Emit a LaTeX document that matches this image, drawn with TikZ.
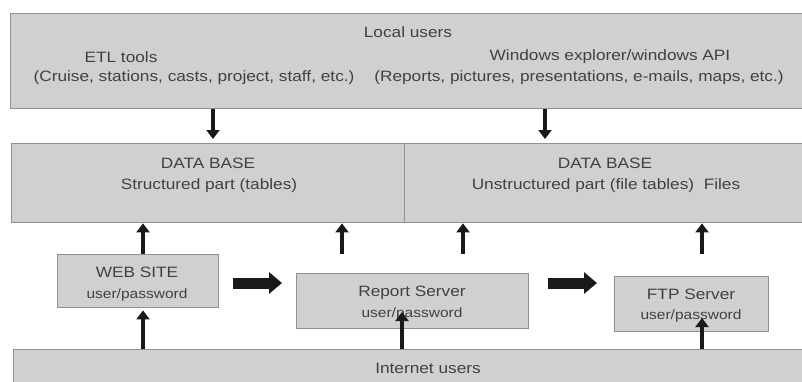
\documentclass[tikz,border=0pt]{standalone}
\usepackage{fontspec}
\setmainfont[FakeStretch=1.15]{Liberation Sans}
\usetikzlibrary{arrows.meta}
\definecolor{boxfill}{RGB}{208,208,208}
\definecolor{boxline}{RGB}{145,145,145}
\definecolor{txt}{RGB}{65,65,65}
\definecolor{arr}{RGB}{25,25,25}
\tikzset{
  box/.style={draw=boxline, line width=1.4pt, fill=boxfill, inner sep=0pt, anchor=north west},
  lbl/.style={text=txt, font=\fontsize{15}{18}\selectfont, inner sep=0pt, anchor=center},
  slbl/.style={text=txt, font=\fontsize{13.5}{16}\selectfont, inner sep=0pt, anchor=center},
  varrow/.style={draw=arr, line width=4.2pt, -{Triangle[width=13pt,length=9pt]}},
  harrow/.style={draw=arr, line width=11pt, -{Triangle[width=21pt,length=13pt]}}
}
\begin{document}
\begin{tikzpicture}[x=1pt,y=-1pt]
\useasboundingbox (0,0) rectangle (802,381);
% boxes
\node[box, minimum width=805pt, minimum height=95pt] (top) at (10,13) {};
\node[box, minimum width=393pt, minimum height=79pt] (dbL) at (11,143) {};
\node[box, minimum width=411pt, minimum height=79pt] (dbR) at (404,143) {};
\node[box, minimum width=161pt, minimum height=53pt] (web) at (57,254) {};
\node[box, minimum width=232pt, minimum height=55pt] (rep) at (296,273) {};
\node[box, minimum width=154pt, minimum height=55pt] (ftp) at (614,276) {};
\node[box, minimum width=805pt, minimum height=55pt] (inet) at (13,349) {};
% texts
\node[lbl] (t1) at (408,32) {Local users};
\node[lbl] (t2) at (121,57) {ETL tools};
\node[lbl] (t3) at (194,78) {(Cruise, stations, casts, project, staff, etc.)};
\node[lbl] (t4) at (610,57) {Windows explorer/windows API};
\node[lbl] (t5) at (579,78) {(Reports, pictures, presentations, e-mails, maps, etc.)};
\node[lbl] (t6) at (208,163) {DATA BASE};
\node[lbl] (t7) at (209,186) {Structured part (tables)};
\node[lbl] (t8) at (605,163) {DATA BASE};
\node[lbl] (t9) at (606,186) {Unstructured part (file tables)\ \ Files};
\node[lbl] (t10) at (137,272) {WEB SITE};
\node[slbl] (t11) at (137,295) {user/password};
\node[lbl] (t12) at (412,293) {Report Server};
\node[slbl] (t13) at (412,314) {user/password};
\node[lbl] (t14) at (691,294) {FTP Server};
\node[slbl] (t15) at (691,316) {user/password};
\node[lbl] (t16) at (428,368) {Internet users};
% arrow anchors
\coordinate (xa) at (213,0);
\coordinate (xb) at (545,0);
\coordinate (xc) at (143,0);
\coordinate (xd) at (342,0);
\coordinate (xe) at (463,0);
\coordinate (xf) at (702,0);
\coordinate (xg) at (402,0);
\coordinate (repin) at (402,312);
\coordinate (ftpin) at (702,318);
\coordinate (r1) at (0,254);
\coordinate (h1s) at (233,283);
\coordinate (h1e) at (282,283);
\coordinate (h2s) at (548,283);
\coordinate (h2e) at (597,283);
% arrows
\draw[varrow, shorten >=4pt] (top.south -| xa) -- (dbL.north -| xa);
\draw[varrow, shorten >=4pt] (top.south -| xb) -- (dbR.north -| xb);
\draw[varrow] (web.north -| xc) -- (dbL.south -| xc);
\draw[varrow] (r1 -| xd) -- (dbL.south -| xd);
\draw[varrow] (r1 -| xe) -- (dbR.south -| xe);
\draw[varrow] (r1 -| xf) -- (dbR.south -| xf);
\draw[harrow] (h1s) -- (h1e);
\draw[harrow] (h2s) -- (h2e);
\draw[varrow, shorten >=2pt] (inet.north -| xc) -- (web.south -| xc);
\draw[varrow] (inet.north -| xg) -- (repin);
\draw[varrow] (inet.north -| xf) -- (ftpin);
\end{tikzpicture}
\end{document}
